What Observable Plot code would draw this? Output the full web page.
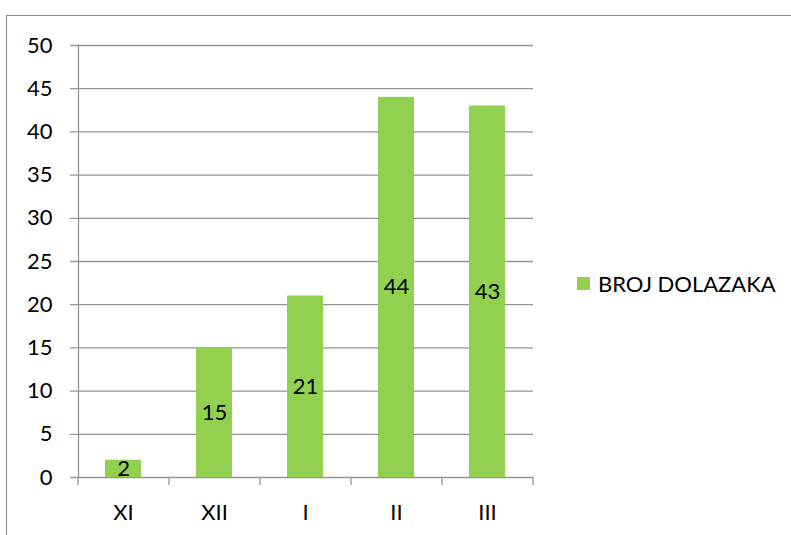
<!DOCTYPE html>
<html><head><meta charset="utf-8">
<script src="https://cdn.jsdelivr.net/npm/d3@7"></script>
<script src="https://cdn.jsdelivr.net/npm/@observablehq/plot@0.6"></script>
<style>
body{margin:0;background:#fff;font-family:Lato,"Open Sans",sans-serif;}
#wrap{position:relative;width:791px;height:535px;overflow:hidden;}
#bt{position:absolute;left:6px;top:15px;width:800px;height:0;border-top:1.5px solid #8a8a8a;}
#bl{position:absolute;left:6px;top:15px;width:0;height:540px;border-left:1.5px solid #8a8a8a;}
#legend{position:absolute;left:577px;top:270px;display:flex;align-items:center;font-size:22px;color:#000;}
#legend span.sw{display:inline-block;width:13px;height:13px;background:#92D050;margin-right:8px;}
#chart{position:absolute;left:0;top:0;}
</style></head>
<body>
<div id="wrap"><div id="bt"></div><div id="bl"></div><div id="chart"></div>
<div id="legend"><span class="sw"></span><span id="ltxt"></span></div></div>
<script>
const categories = ["XI","XII","I","II","III"];
const values = [2,15,21,44,43];
const seriesName = "BROJ DOLAZAKA";
const yTicks = [0,5,10,15,20,25,30,35,40,45,50];

const data = categories.map((c,i)=>({cat:c, value:values[i]}));
document.getElementById("ltxt").textContent = seriesName;
const grid = "#959595";
const chart = Plot.plot({
  width: 791, height: 535,
  marginLeft: 78, marginRight: 258, marginTop: 45, marginBottom: 58,
  style: {fontFamily: "Lato, 'Open Sans', sans-serif", fontSize: "22px", color: "#000", background: "transparent"},
  x: {domain: categories, paddingInner: 0.6, paddingOuter: 0.3, label: null},
  y: {domain: [0,50], label: null},
  marks: [
    Plot.ruleY(yTicks, {stroke: grid, strokeWidth: 1.3, insetLeft: -8}),
    Plot.axisY({ticks: yTicks, tickSize: 0, tickPadding: 26, label: null, fontSize: 22}),
    Plot.frame({anchor: "left", stroke: grid, strokeWidth: 1.3}),
    Plot.barY(data, {x: "cat", y: "value", fill: "#92D050"}),
    Plot.ruleX(categories, {x: d=>d, y1: 0, y2: 0, dx: -45.5, insetBottom: -8, stroke: grid, strokeWidth: 1.3}),
    Plot.ruleX([categories[categories.length-1]], {x: d=>d, y1: 0, y2: 0, dx: 45.5, insetBottom: -8, stroke: grid, strokeWidth: 1.3}),
    Plot.axisX({tickSize: 0, tickPadding: 27, label: null, fontSize: 22}),
    Plot.text(data, {x: "cat", y: d=>d.value/2, text: d=>String(d.value), fontSize: 22, fill: "#000"})
  ]
});
document.getElementById("chart").appendChild(chart);
</script>
</body></html>
